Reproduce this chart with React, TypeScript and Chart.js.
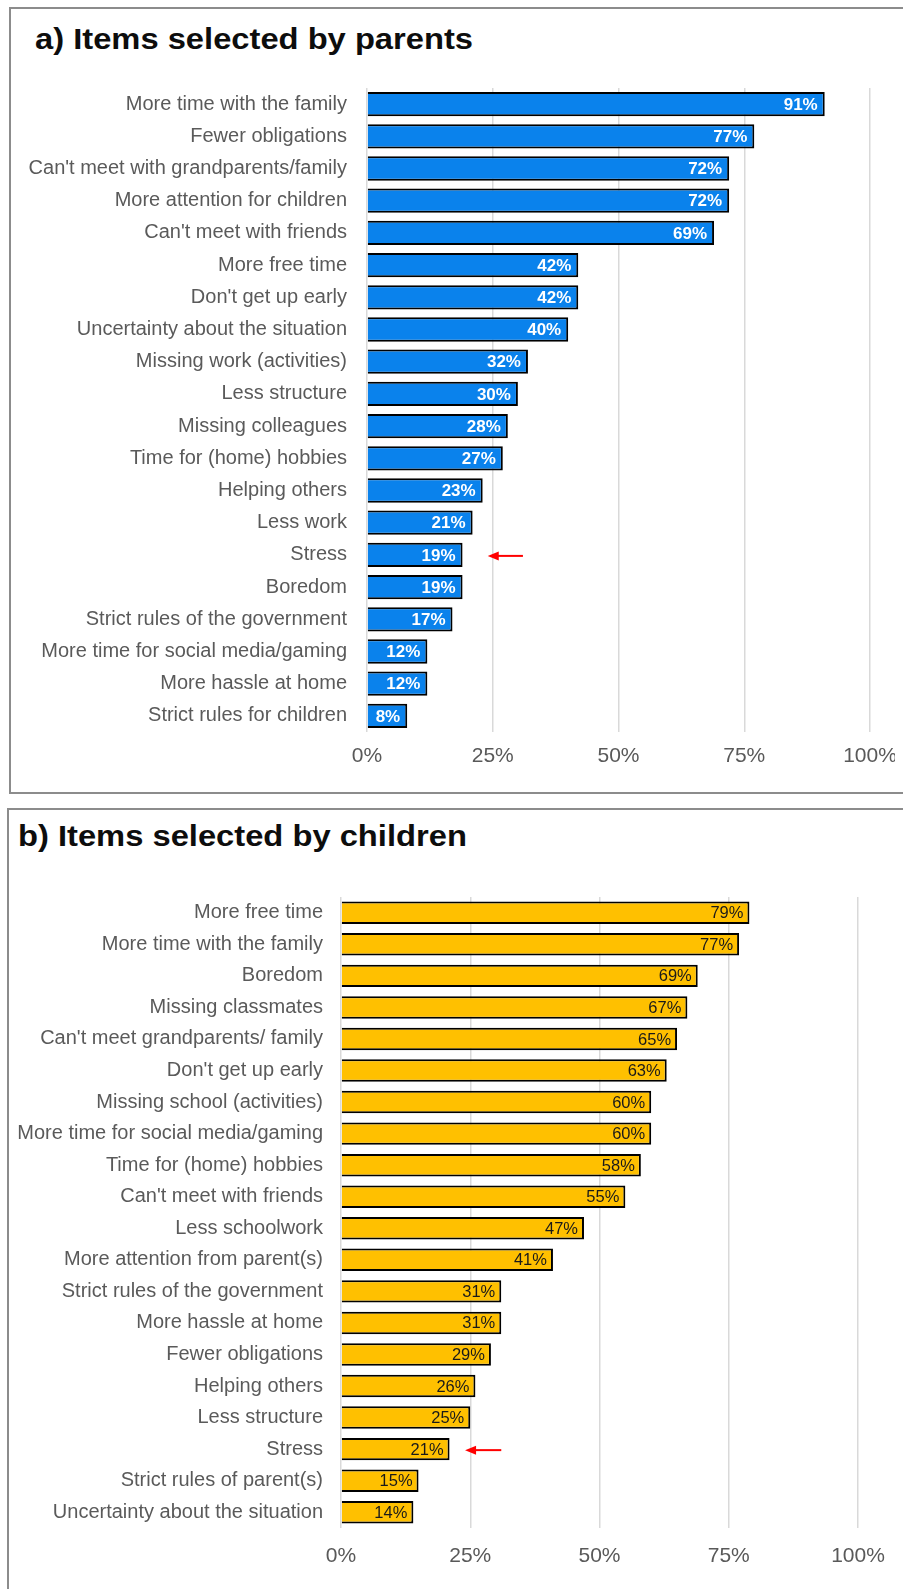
import React, { useEffect, useRef } from "react";
import { Chart, registerables } from "chart.js";

Chart.register(...registerables);

// ---------- data ----------
const parentCategories = [
  "More time with the family",
  "Fewer obligations",
  "Can't meet with grandparents/family",
  "More attention for children",
  "Can't meet with friends",
  "More free time",
  "Don't get up early",
  "Uncertainty about the situation",
  "Missing work (activities)",
  "Less structure",
  "Missing colleagues",
  "Time for (home) hobbies",
  "Helping others",
  "Less work",
  "Stress",
  "Boredom",
  "Strict rules of the government",
  "More time for social media/gaming",
  "More hassle at home",
  "Strict rules for children",
];
const parentValues = [91, 77, 72, 72, 69, 42, 42, 40, 32, 30, 28, 27, 23, 21, 19, 19, 17, 12, 12, 8];

const childCategories = [
  "More free time",
  "More time with the family",
  "Boredom",
  "Missing classmates",
  "Can't meet grandparents/ family",
  "Don't get up early",
  "Missing school (activities)",
  "More time for social media/gaming",
  "Time for (home) hobbies",
  "Can't meet with friends",
  "Less schoolwork",
  "More attention from parent(s)",
  "Strict rules of the government",
  "More hassle at home",
  "Fewer obligations",
  "Helping others",
  "Less structure",
  "Stress",
  "Strict rules of parent(s)",
  "Uncertainty about the situation",
];
const childValues = [79, 77, 69, 67, 65, 63, 60, 60, 58, 55, 47, 41, 31, 31, 29, 26, 25, 21, 15, 14];

const axisTicks = [0, 25, 50, 75, 100];

const parentTitle = "a) Items selected by parents";
const childTitle = "b) Items selected by children";

// arrow annotation (category it points at, head / tail in % units)
const parentArrow = { category: "Stress", head: 24, tail: 31 };
const childArrow = { category: "Stress", head: 24, tail: 31 };

// ---------- plugins ----------
const valueLabelPlugin = {
  id: "valueLabels",
  afterDatasetsDraw(chart: any, _args: any, opts: any) {
    const { ctx } = chart;
    const meta = chart.getDatasetMeta(0);
    const data = chart.data.datasets[0].data as number[];
    ctx.save();
    ctx.font = opts.font;
    ctx.fillStyle = opts.color;
    ctx.textAlign = "right";
    ctx.textBaseline = "middle";
    meta.data.forEach((bar: any, i: number) => {
      ctx.fillText(data[i] + "%", bar.x - opts.offset, bar.y + 1);
    });
    ctx.restore();
  },
};

const arrowPlugin = {
  id: "stressArrow",
  afterDatasetsDraw(chart: any, _args: any, opts: any) {
    const { ctx } = chart;
    const labels = chart.data.labels as string[];
    const idx = labels.indexOf(opts.category);
    if (idx < 0) return;
    const y = chart.scales.y.getPixelForValue(idx) + 1;
    const xh = chart.scales.x.getPixelForValue(opts.head);
    const xt = chart.scales.x.getPixelForValue(opts.tail);
    ctx.save();
    ctx.strokeStyle = "#ff0000";
    ctx.fillStyle = "#ff0000";
    ctx.lineWidth = 2;
    ctx.beginPath();
    ctx.moveTo(xt, y);
    ctx.lineTo(xh + 6, y);
    ctx.stroke();
    ctx.beginPath();
    ctx.moveTo(xh, y);
    ctx.lineTo(xh + 11, y - 4.5);
    ctx.lineTo(xh + 11, y + 4.5);
    ctx.closePath();
    ctx.fill();
    ctx.restore();
  },
};

type Geo = {
  yAxisW: number;
  xAxisH: number;
  padTop: number;
  padRight: number;
  labelPad: number;
  tickPad: number;
  barPct: number;
};

function buildConfig(
  labels: string[],
  values: number[],
  color: string,
  geo: Geo,
  valueFont: string,
  valueColor: string,
  valueOffset: number,
  arrow: { category: string; head: number; tail: number }
): any {
  return {
    type: "bar",
    data: {
      labels,
      datasets: [
        {
          data: values,
          backgroundColor: color,
          borderColor: "#000000",
          borderWidth: 2,
          borderSkipped: "start",
          categoryPercentage: 1,
          barPercentage: geo.barPct,
        },
      ],
    },
    options: {
      indexAxis: "y",
      animation: false,
      responsive: true,
      maintainAspectRatio: false,
      layout: { padding: { left: 0, right: geo.padRight, top: geo.padTop, bottom: 0 } },
      plugins: {
        legend: { display: false },
        tooltip: { enabled: false },
        title: { display: false },
        valueLabels: { font: valueFont, color: valueColor, offset: valueOffset },
        stressArrow: arrow,
      },
      scales: {
        x: {
          min: 0,
          max: 100,
          afterBuildTicks: (s: any) => {
            s.ticks = axisTicks.map((v) => ({ value: v }));
          },
          afterFit: (s: any) => {
            s.height = geo.xAxisH;
            s.paddingLeft = 0;
            s.paddingRight = 0;
          },
          grid: { color: "#d9d9d9", lineWidth: 1.5, drawTicks: false },
          border: { display: false },
          ticks: {
            color: "#595959",
            font: { family: "'Liberation Sans', Arial, sans-serif", size: 21 },
            padding: geo.tickPad,
            callback: (v: any) => v + "%",
          },
        },
        y: {
          afterFit: (s: any) => {
            s.width = geo.yAxisW;
            s.paddingTop = 0;
            s.paddingBottom = 0;
          },
          grid: { display: false, drawTicks: false },
          border: { display: false },
          ticks: {
            color: "#5a5a5a",
            autoSkip: false,
            font: { family: "'Liberation Sans', Arial, sans-serif", size: 20 },
            padding: geo.labelPad,
          },
        },
      },
    },
    plugins: [valueLabelPlugin, arrowPlugin],
  };
}

function BarChart(props: { config: any; style: React.CSSProperties }) {
  const ref = useRef<HTMLCanvasElement | null>(null);
  useEffect(() => {
    if (!ref.current) return;
    const chart = new Chart(ref.current, props.config);
    return () => chart.destroy();
  }, []);
  return (
    <div style={{ position: "absolute", ...props.style }}>
      <canvas ref={ref} />
    </div>
  );
}

const titleStyle: React.CSSProperties = {
  position: "absolute",
  font: "bold 30px 'Liberation Sans', Arial, sans-serif",
  lineHeight: "30px",
  color: "#0d0d0d",
  whiteSpace: "nowrap",
  transform: "scaleX(1.09)",
  transformOrigin: "left center",
};

const panelStyle: React.CSSProperties = {
  position: "absolute",
  boxSizing: "border-box",
  border: "2px solid #8c8c8c",
  background: "#ffffff",
  width: 1000,
};

export default function App() {
  const parentConfig = buildConfig(
    parentCategories,
    parentValues,
    "#0a82ec",
    { yAxisW: 359, xAxisH: 56, padTop: 20, padRight: 25, labelPad: 20, tickPad: 12, barPct: 0.755 },
    "bold 17px 'Liberation Sans', Arial, sans-serif",
    "#ffffff",
    7,
    parentArrow
  );
  const childConfig = buildConfig(
    childCategories,
    childValues,
    "#ffc000",
    { yAxisW: 333, xAxisH: 61, padTop: 37, padRight: 37, labelPad: 18, tickPad: 16, barPct: 0.71 },
    "16.5px 'Liberation Sans', Arial, sans-serif",
    "#1a1a1a",
    6,
    childArrow
  );

  return (
    <div
      style={{
        position: "absolute",
        left: 0,
        top: 0,
        width: 903,
        height: 1589,
        overflow: "hidden",
        background: "#ffffff",
      }}
    >
      <div style={{ ...panelStyle, left: 9, top: 7, height: 787 }} />
      <div style={{ ...panelStyle, left: 7, top: 808, height: 900 }} />
      <div style={{ ...titleStyle, left: 35, top: 24 }}>{parentTitle}</div>
      <div style={{ ...titleStyle, left: 18, top: 821 }}>{childTitle}</div>
      <BarChart config={parentConfig} style={{ left: 8, top: 68, width: 887, height: 720 }} />
      <BarChart config={childConfig} style={{ left: 8, top: 860, width: 887, height: 729 }} />
    </div>
  );
}
